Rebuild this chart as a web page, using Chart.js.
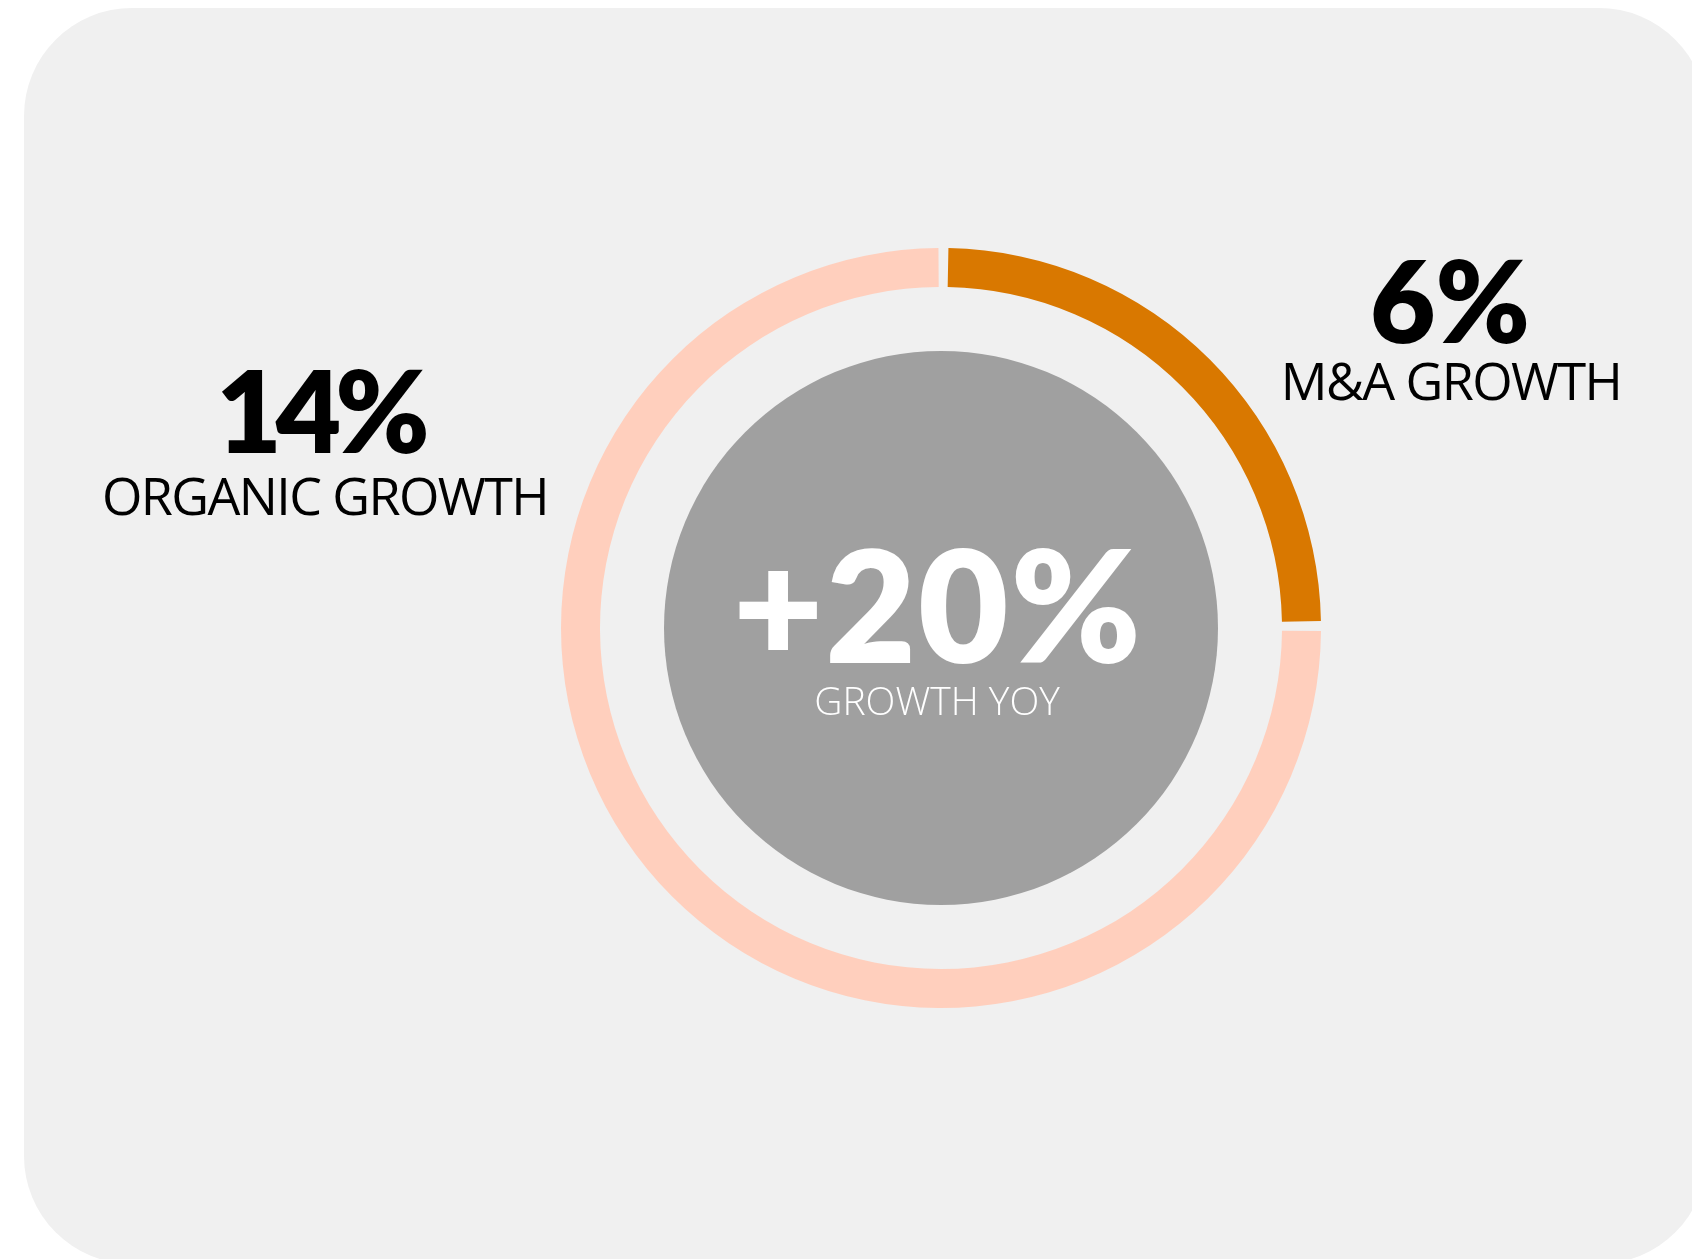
<!DOCTYPE html>
<html>
<head>
<meta charset="utf-8">
<script src="https://cdn.jsdelivr.net/npm/chart.js@4.4.1/dist/chart.umd.min.js"></script>
<style>
  html, body { margin: 0; padding: 0; background: #ffffff; width: 1692px; height: 1259px; overflow: hidden; }
  #card { position: absolute; left: 24px; top: 8px; width: 1683px; height: 1256px; border-radius: 108px; background: #f0f0f0; }
  #chartBox { position: absolute; left: 561px; top: 248px; width: 760px; height: 760px; }
  .lbl { position: absolute; width: 700px; text-align: center; line-height: 1; white-space: nowrap; }
  .big { font-family: Lato, "Open Sans", sans-serif; font-weight: 800; color: #000; }
  .sub { font-family: "Open Sans", sans-serif; font-weight: 400; color: #000; letter-spacing: -1.6px; }
  .cbig { font-family: Lato, "Open Sans", sans-serif; font-weight: 800; color: #fff; }
  .csub { font-family: "Open Sans", sans-serif; font-weight: 300; color: #fff; }
</style>
</head>
<body>
<div id="card"></div>
<div id="chartBox"><canvas id="c"></canvas></div>
<div id="texts"></div>
<script>
// ---- data ----
const categories = ['M&A GROWTH', 'ORGANIC GROWTH'];
const growthValues = [6, 14];          // % growth shown in the labels
const ringShares = [24.6, 75.4];       // share of the ring each arc covers
const totalValue = 20;                 // centre figure
const totalLabel = 'GROWTH YOY';
const segmentColors = ['#d97800', '#ffcfbd'];

// ---- labels (real text) ----
const texts = document.getElementById('texts');
function addText(cls, txt, cx, top, size, ls) {
  const d = document.createElement('div');
  d.className = 'lbl ' + cls;
  d.textContent = txt;
  d.style.left = (cx - 350 - (ls ? ls / 2 : 0)) + 'px';
  d.style.top = top + 'px';
  d.style.fontSize = size + 'px';
  if (ls !== undefined) d.style.letterSpacing = ls + 'px';
  texts.appendChild(d);
}
addText('big', growthValues[1] + '%', 317, 353, 113, -6);
addText('sub', categories[1], 325, 469, 52);
addText('big', growthValues[0] + '%', 1450, 243, 113, 0);
addText('sub', categories[0], 1451, 354, 52);
addText('cbig', '+' + totalValue + '%', 939, 525, 156, 2);
addText('csub', totalLabel, 937, 680, 39);

// ---- chart ----
const centerDisc = {
  id: 'centerDisc',
  beforeDatasetsDraw(chart) {
    const arc = chart.getDatasetMeta(0).data[0];
    if (!arc) return;
    const ctx = chart.ctx;
    ctx.save();
    ctx.beginPath();
    ctx.arc(arc.x, arc.y, 277, 0, Math.PI * 2);
    ctx.fillStyle = '#a0a0a0';
    ctx.fill();
    ctx.restore();
  }
};

new Chart(document.getElementById('c'), {
  type: 'doughnut',
  data: {
    labels: categories,
    datasets: [{
      data: ringShares,
      backgroundColor: segmentColors,
      borderWidth: 0,
      spacing: 6
    }]
  },
  options: {
    responsive: true,
    maintainAspectRatio: false,
    animation: false,
    rotation: 0.75,
    cutout: 338,
    layout: { padding: 0 },
    plugins: { legend: { display: false }, tooltip: { enabled: false } }
  },
  plugins: [centerDisc]
});
</script>
</body>
</html>
